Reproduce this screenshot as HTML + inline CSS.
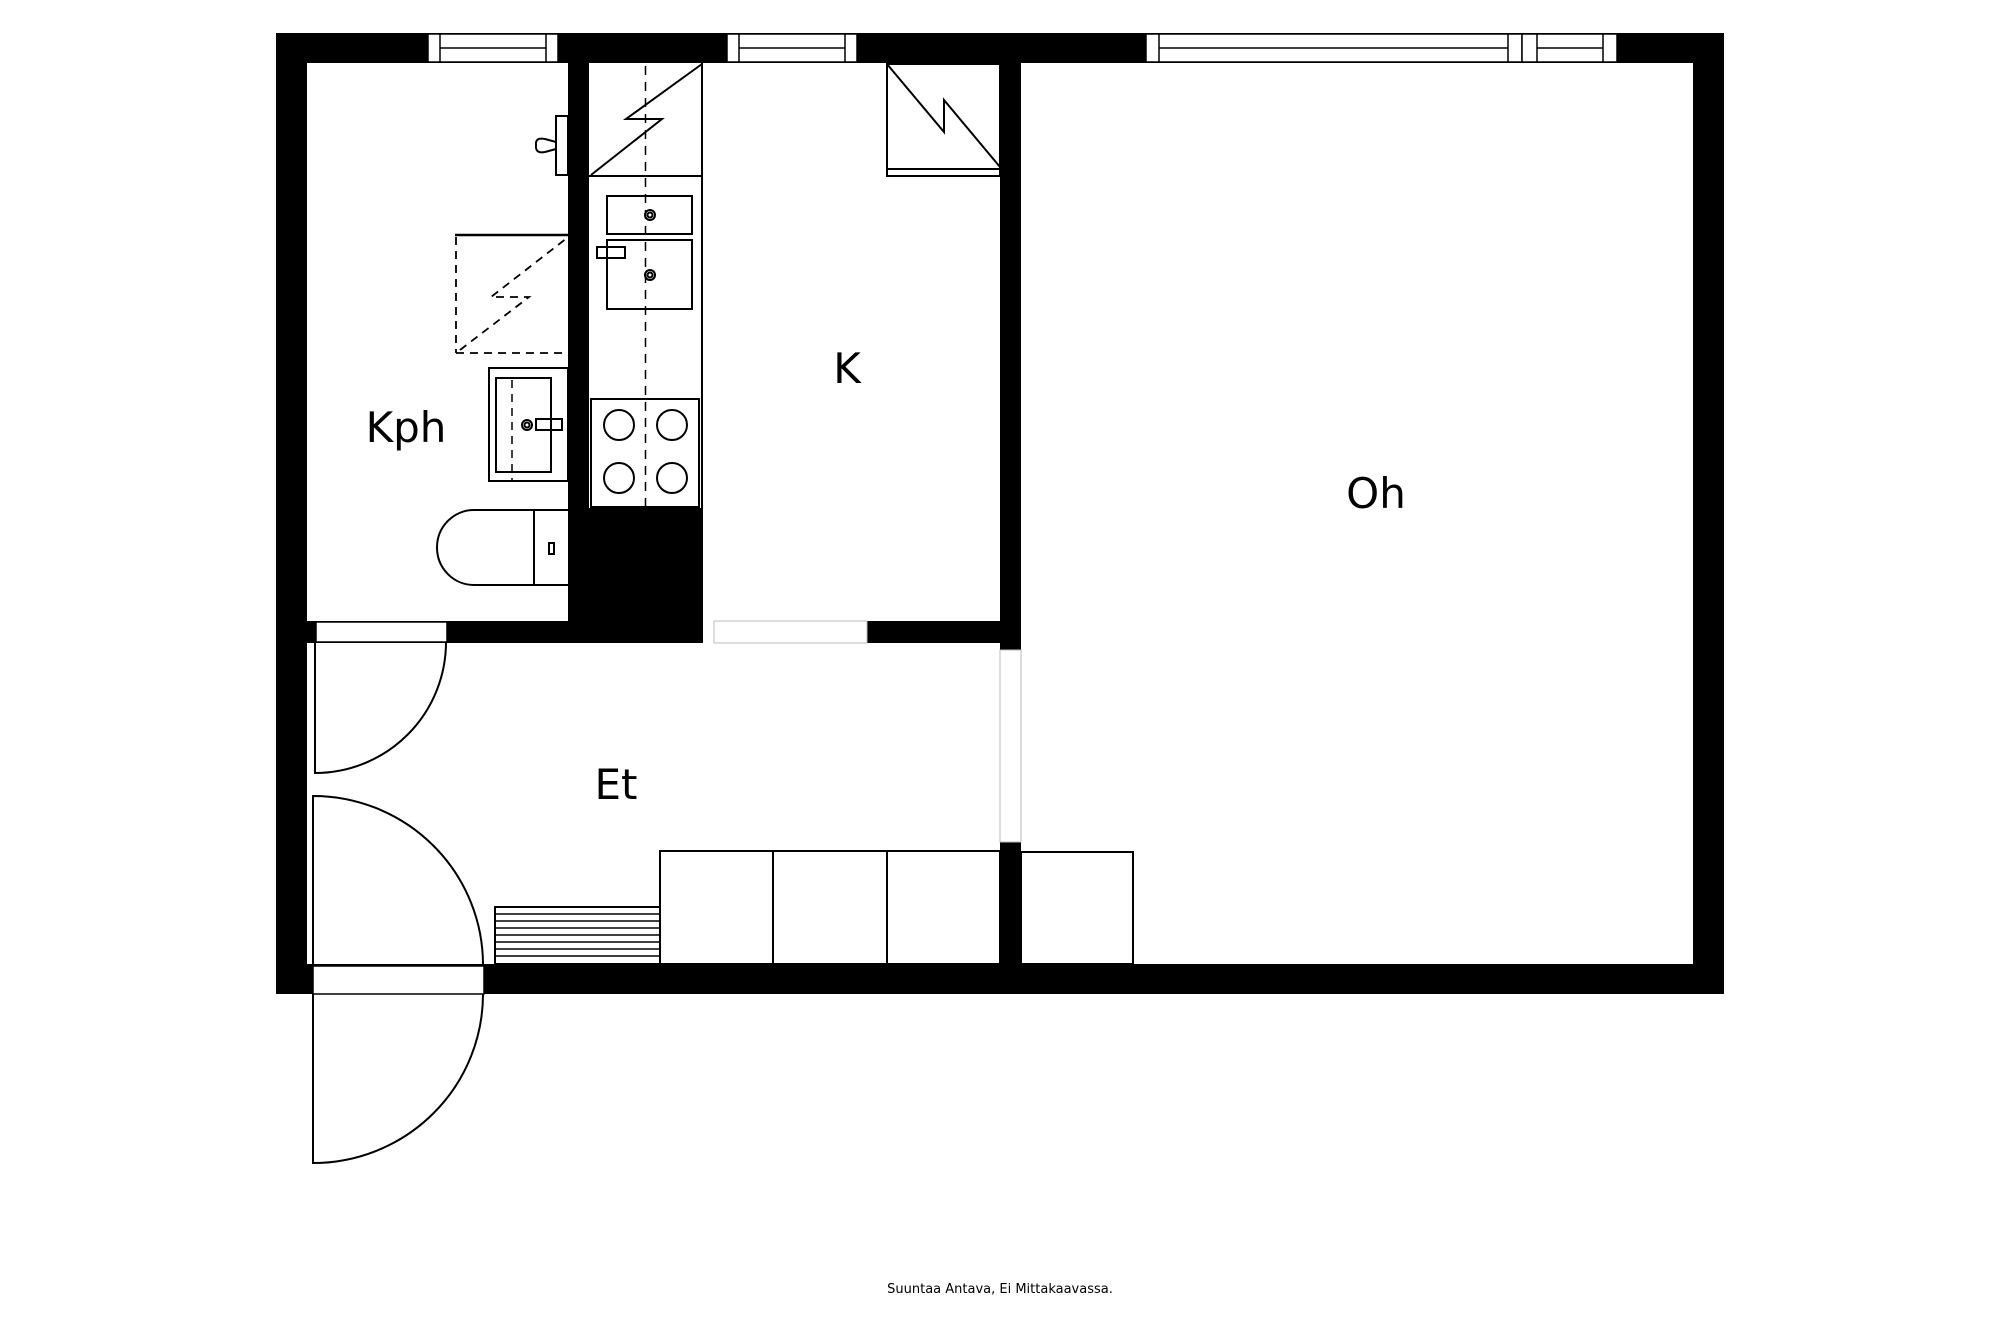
<!DOCTYPE html>
<html><head><meta charset="utf-8"><style>html,body{margin:0;padding:0;background:#fff}svg{display:block}</style></head>
<body>
<svg width="2000" height="1333" viewBox="0 0 2000 1333" xmlns="http://www.w3.org/2000/svg">
<rect width="2000" height="1333" fill="#fff"/>
<g fill="#000">
<rect x="276" y="33" width="1448" height="30"/>
<rect x="276" y="33" width="31" height="961"/>
<rect x="1693" y="33" width="31" height="961"/>
<rect x="276" y="964" width="1448" height="30"/>
<rect x="568" y="63" width="21" height="580"/>
<rect x="568" y="508" width="135" height="135"/>
<rect x="307" y="621" width="396" height="22"/>
<rect x="867" y="621" width="154" height="22"/>
<rect x="1000" y="63" width="21" height="587"/>
<rect x="1000" y="842" width="21" height="122"/>
</g>
<g fill="#fff" stroke="#000" stroke-width="1.5">
<rect x="428" y="34" width="130" height="28"/>
<rect x="428" y="34" width="12" height="28"/><rect x="546" y="34" width="12" height="28"/>
<line x1="440" y1="48" x2="546" y2="48"/>
<rect x="727" y="34" width="130" height="28"/>
<rect x="727" y="34" width="12" height="28"/><rect x="845" y="34" width="12" height="28"/>
<line x1="739" y1="48" x2="845" y2="48"/>
<rect x="1146" y="34" width="471" height="28"/>
<rect x="1146" y="34" width="13" height="28"/><rect x="1508" y="34" width="14" height="28"/><rect x="1522" y="34" width="15" height="28"/><rect x="1603" y="34" width="14" height="28"/>
<line x1="1159" y1="48" x2="1508" y2="48"/><line x1="1537" y1="48" x2="1603" y2="48"/>
<rect x="316" y="622" width="131" height="20"/>
<rect x="313" y="966" width="171" height="28"/>
</g>
<g fill="#fff" stroke="#bbb" stroke-width="1">
<rect x="714" y="621" width="153" height="22"/>
<rect x="1000" y="650" width="21" height="192"/>
</g>
<g fill="none" stroke="#000" stroke-width="2">
<path d="M315 642 L315 773 A131 131 0 0 0 446 642"/>
<path d="M313 965 L313 796 A170 169 0 0 1 483 965"/>
<path d="M313 994 L313 1163 A170 169 0 0 0 483 994"/>
<line x1="702" y1="63" x2="702" y2="508"/>
<line x1="589" y1="176" x2="702" y2="176"/>
<path d="M591 175 L662 119 L626 119 L702 64"/>
<rect x="607" y="196" width="85" height="38"/>
<rect x="607" y="240" width="85" height="69"/>
<rect x="597" y="247" width="28" height="11"/>
<circle cx="650" cy="215" r="5"/><circle cx="650" cy="215" r="2.5"/>
<circle cx="650" cy="275" r="5"/><circle cx="650" cy="275" r="2.5"/>
<rect x="591" y="399" width="108" height="108"/>
<circle cx="619" cy="425" r="15"/><circle cx="672" cy="425" r="15"/>
<circle cx="619" cy="478" r="15"/><circle cx="672" cy="478" r="15"/>
<line x1="645.5" y1="66" x2="645.5" y2="508" stroke-dasharray="9,7" stroke-width="1.5"/>
<rect x="887" y="64" width="113" height="112"/>
<line x1="887" y1="169" x2="1000" y2="169"/>
<path d="M887 64 L944 132 L944 100 L1000 167"/>
<line x1="455" y1="235" x2="568" y2="235" stroke-width="2.5"/>
<g stroke-dasharray="8,6" stroke-width="1.8">
<line x1="456" y1="237" x2="456" y2="353"/>
<line x1="456" y1="353" x2="567" y2="353"/>
<path d="M460 350 L529 297 L491 297 L567 238"/>
</g>
<rect x="556" y="116" width="12" height="59"/>
<path d="M556 142 L545 139 Q535 137 536 145 Q535 154 545 152 L556 149"/>
<rect x="489" y="368" width="79" height="113"/>
<rect x="496" y="378" width="55" height="94"/>
<line x1="512" y1="380" x2="512" y2="481" stroke-dasharray="8,6" stroke-width="1.5"/>
<rect x="536" y="419" width="26" height="11"/>
<circle cx="527" cy="425" r="5"/><circle cx="527" cy="425" r="2.5"/>
<path d="M568 510 L474 510 A37 37.5 0 0 0 474 585 L568 585"/>
<line x1="534" y1="510" x2="534" y2="585"/>
<rect x="549" y="543" width="5" height="11"/>
<rect x="660" y="851" width="340" height="113"/>
<line x1="773" y1="851" x2="773" y2="964"/>
<line x1="887" y1="851" x2="887" y2="964"/>
<rect x="1021" y="852" width="112" height="112"/>
<rect x="495" y="907" width="165" height="57"/>
</g>
<g stroke="#000" stroke-width="1.5">
<line x1="495" y1="914" x2="660" y2="914"/><line x1="495" y1="921" x2="660" y2="921"/>
<line x1="495" y1="928" x2="660" y2="928"/><line x1="495" y1="935" x2="660" y2="935"/>
<line x1="495" y1="942" x2="660" y2="942"/><line x1="495" y1="949" x2="660" y2="949"/>
<line x1="495" y1="956" x2="660" y2="956"/>
</g>
<g font-family="'DejaVu Sans','Liberation Sans',sans-serif" font-size="42" fill="#000" text-anchor="middle">
<text x="406" y="442">Kph</text>
<text x="847" y="383">K</text>
<text x="616" y="799">Et</text>
<text x="1376" y="508">Oh</text>
</g>
<text x="1000" y="1293" font-family="'DejaVu Sans','Liberation Sans',sans-serif" font-size="13" text-anchor="middle" fill="#000">Suuntaa Antava, Ei Mittakaavassa.</text>
</svg>
</body></html>
